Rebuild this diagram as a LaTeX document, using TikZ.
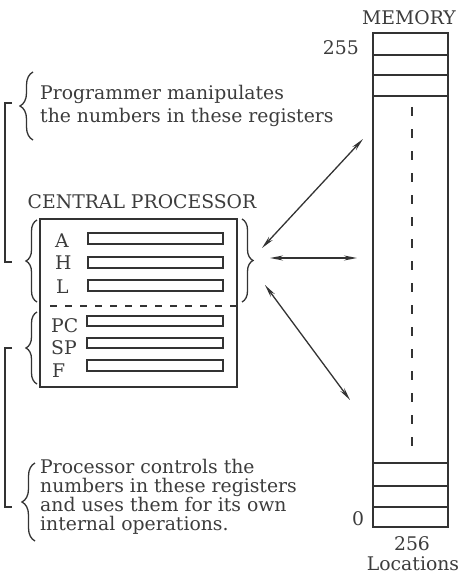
\documentclass[tikz,border=0pt]{standalone}
\usepackage{fontspec}
\setmainfont{DejaVu Serif}
\usetikzlibrary{decorations.pathreplacing,arrows.meta}
\definecolor{ink}{HTML}{333333}
\definecolor{txt}{HTML}{3C3C3C}
\begin{document}
\begin{tikzpicture}[x=1pt,y=-1pt,
  lbl/.style={text=txt,font=\fontsize{18.8}{22}\selectfont,inner sep=0pt},
  regbar/.style={draw=ink,line width=1.3pt},
  boxline/.style={draw=ink,line width=1.4pt},
  brc/.style={draw=ink,line width=1.3pt,decorate,decoration={brace,amplitude=#1}},
  brc/.default=11pt,
  brk/.style={draw=ink,line width=1.3pt},
  arr/.style={draw=ink,line width=1.3pt,{Stealth[length=13pt,width=5pt]}-{Stealth[length=13pt,width=5pt]}}]
\useasboundingbox (0,0) rectangle (459,575);

% texts on the left
\node[lbl,anchor=base west] (p1) at (40,100) {Programmer manipulates};
\node[lbl,anchor=base west] (p2) at (40,122) {the numbers in these registers};
\node[lbl,anchor=base west] (q1) at (40,473) {Processor controls the};
\node[lbl,anchor=base west] (q2) at (40,492) {numbers in these registers};
\node[lbl,anchor=base west] (q3) at (40,511) {and uses them for its own};
\node[lbl,anchor=base west] (q4) at (40,530) {internal operations.};

\draw[brc=13pt] (33,140) -- (33,72);
\draw[brc=13pt] (35,541) -- (35,463);

% brackets
\draw[brk] (12,103) -- (5,103) -- (5,262) -- (12,262);
\draw[brk] (12,348) -- (5,348) -- (5,507) -- (12,507);

% central processor
\node[lbl,anchor=base] (cpu) at (142,208) {CENTRAL PROCESSOR};
\draw[boxline] (40,219) rectangle (237,387);
\draw[ink,line width=1.3pt,dash pattern=on 7pt off 8pt] (50,306) -- (237,306);

\node[lbl,anchor=base west] (ra) at (55,247) {A};
\node[lbl,anchor=base west] (rh) at (55,269) {H};
\node[lbl,anchor=base west] (rl) at (56,293) {L};
\node[lbl,anchor=base west] (rpc) at (51,332) {PC};
\node[lbl,anchor=base west] (rsp) at (51,354) {SP};
\node[lbl,anchor=base west] (rf) at (52,377) {F};

\draw[regbar] (88,233) rectangle (223,244);
\draw[regbar] (88,257) rectangle (223,268);
\draw[regbar] (88,280) rectangle (223,291);
\draw[regbar] (87,316) rectangle (223,326);
\draw[regbar] (87,338) rectangle (223,348);
\draw[regbar] (87,360) rectangle (223,371);

\draw[brc] (37,302) -- (37,220);
\draw[brc] (37,384) -- (37,312);
\draw[brc] (242,219) -- (242,302);

% memory
\node[lbl,anchor=base] (mem) at (409,25) {MEMORY};
\draw[boxline] (373,33) rectangle (448,527);
\foreach \yy in {55,75,96,463,486,507} \draw[ink,line width=1.3pt] (373,\yy) -- (448,\yy);
\draw[ink,line width=1.2pt,dash pattern=on 9pt off 13pt] (412,107) -- (412,456);
\node[lbl,anchor=base east] (n255) at (359,55) {255};
\node[lbl,anchor=base] (n0) at (358,525) {0};
\node[lbl,anchor=base] (n256) at (412,550) {256};
\node[lbl,anchor=base] (loc) at (413,570) {Locations};

% arrows
\coordinate (a1s) at (262,248);
\coordinate (a1e) at (363,139);
\coordinate (a2s) at (270,258);
\coordinate (a2e) at (357,258);
\coordinate (a3s) at (265,285);
\coordinate (a3e) at (350,400);
\draw[arr] (a1s) -- (a1e);
\draw[arr] (a2s) -- (a2e);
\draw[arr] (a3s) -- (a3e);
\end{tikzpicture}
\end{document}
